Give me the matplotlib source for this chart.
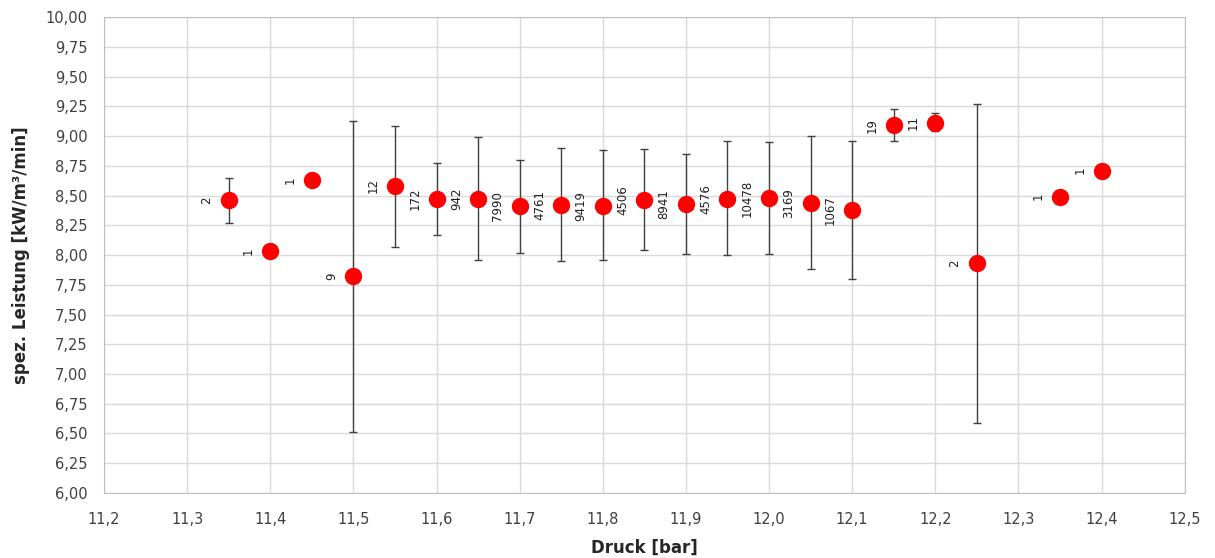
import matplotlib
matplotlib.use("Agg")
import matplotlib.pyplot as plt
import numpy as np
from matplotlib.ticker import FuncFormatter, MultipleLocator

# Druck [bar], Mittelwert, obere/untere Fehlerbalkengrenze, Anzahl
druck = [11.35, 11.40, 11.45, 11.50, 11.55, 11.60, 11.65, 11.70, 11.75, 11.80, 11.85,
         11.90, 11.95, 12.00, 12.05, 12.10, 12.15, 12.20, 12.25, 12.35, 12.40]
leistung = [8.46, 8.03, 8.63, 7.82, 8.58, 8.47, 8.47, 8.41, 8.42, 8.41, 8.46,
            8.43, 8.47, 8.48, 8.44, 8.38, 9.09, 9.11, 7.93, 8.49, 8.71]
oben = [8.65, 8.03, 8.63, 9.13, 9.08, 8.77, 8.99, 8.80, 8.90, 8.88, 8.89,
        8.85, 8.96, 8.95, 9.00, 8.96, 9.23, 9.19, 9.27, 8.49, 8.71]
unten = [8.27, 8.03, 8.63, 6.51, 8.07, 8.17, 7.96, 8.02, 7.95, 7.96, 8.04,
         8.01, 8.00, 8.01, 7.88, 7.80, 8.96, 9.04, 6.59, 8.49, 8.71]
anzahl = [2, 1, 1, 9, 12, 172, 942, 7990, 4761, 9419, 4506,
          8941, 4576, 10478, 3169, 1067, 19, 11, 2, 1, 1]

x = np.array(druck)
y = np.array(leistung)
err = [y - np.array(unten), np.array(oben) - y]

fig = plt.figure(figsize=(12.15, 5.58), dpi=100)
ax = fig.add_axes([0.0856, 0.1165, 0.8894, 0.853])

ax.errorbar(x, y, yerr=err, fmt='none', ecolor='#404040', elinewidth=1,
            capsize=3, capthick=1, zorder=2)
ax.plot(x, y, 'o', color='#ff0000', markersize=11.5, zorder=3)

for xi, yi, n in zip(x, y, anzahl):
    ax.annotate(str(n), (xi, yi), xytext=(-11, 0), textcoords='offset points',
                rotation=90, ha='right', va='center', fontsize=8.5, color='#202020')

ax.set_xlim(11.2, 12.5)
ax.set_ylim(6.0, 10.0)
ax.xaxis.set_major_locator(MultipleLocator(0.1))
ax.yaxis.set_major_locator(MultipleLocator(0.25))
ax.xaxis.set_major_formatter(FuncFormatter(lambda v, p: f"{v:.1f}".replace('.', ',')))
ax.yaxis.set_major_formatter(FuncFormatter(lambda v, p: f"{v:.2f}".replace('.', ',')))

ax.grid(True, color='#d9d9d9', linewidth=1)
ax.set_axisbelow(True)
for s in ax.spines.values():
    s.set_color('#bfbfbf')
ax.tick_params(length=0, labelsize=10.5, colors='#404040')
ax.tick_params(axis='x', pad=14)
ax.tick_params(axis='y', pad=12)

ax.set_xlabel("Druck [bar]", fontsize=12, fontweight='bold', color='#262626', labelpad=8)
ax.set_ylabel("spez. Leistung [kW/m³/min]", fontsize=12, fontweight='bold', color='#262626',
              labelpad=11)

fig.savefig("out.png", dpi=100)
